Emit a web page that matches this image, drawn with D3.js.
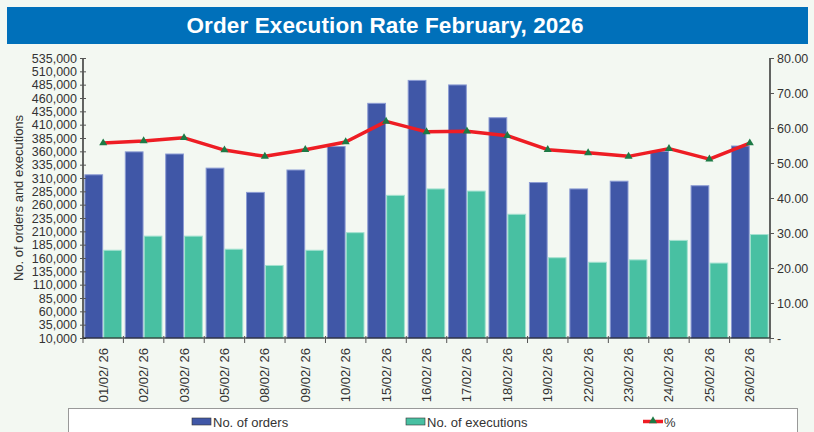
<!DOCTYPE html>
<html>
<head>
<meta charset="utf-8">
<script src="https://cdn.jsdelivr.net/npm/d3@7"></script>
<style>
  body { margin: 0; background: #f3f8f2; }
  svg { display: block; font-family: "Liberation Sans", Arial, sans-serif; }
</style>
</head>
<body>
<svg id="chart" width="814" height="432"></svg>
<script>
const dates = ['01/02/ 26', '02/02/ 26', '03/02/ 26', '05/02/ 26', '08/02/ 26', '09/02/ 26',
  '10/02/ 26', '15/02/ 26', '16/02/ 26', '17/02/ 26', '18/02/ 26', '19/02/ 26',
  '22/02/ 26', '23/02/ 26', '24/02/ 26', '25/02/ 26', '26/02/ 26'];
const orders = [316000, 359000, 355000, 328500, 283000, 325000, 369000, 450000, 493000,
  484500, 423000, 301500, 289500, 304000, 360000, 295500, 370000];
const executions = [174500, 201000, 201000, 176500, 146000, 174500, 207500, 277500, 289500,
  285500, 242000, 160500, 152000, 156500, 193000, 150500, 204000];
const percent = [55.7, 56.3, 57.2, 53.7, 51.9, 53.8, 56.0, 61.9, 58.9,
  59.1, 57.8, 53.8, 52.9, 51.9, 54.1, 51.1, 55.7];
const leftTicks = d3.range(10000, 535001, 25000);
const rightTicks = d3.range(0, 81, 10);

const svg = d3.select('#chart');
const margin = { left: 83, right: 770, top: 58, bottom: 338 };

// title banner
svg.append('rect')
  .attr('x', 7).attr('y', 7).attr('width', 801).attr('height', 37)
  .attr('fill', '#0070ba');
svg.append('text')
  .attr('x', 385).attr('y', 32.5)
  .attr('text-anchor', 'middle')
  .attr('fill', '#fff')
  .attr('font-weight', 'bold')
  .attr('font-size', 22.5)
  .attr('textLength', 397)
  .text('Order Execution Rate February, 2026');

const x = d3.scaleBand().domain(dates).range([margin.left, margin.right]);
const inner = d3.scaleBand().domain(['orders', 'executions'])
  .range([0, x.bandwidth()]).paddingInner(0.06).paddingOuter(0.1);
const yLeft = d3.scaleLinear().domain([10000, 535000]).range([margin.bottom, margin.top]);
const yRight = d3.scaleLinear().domain([0, 80]).range([margin.bottom, margin.top]);

// bars
const series = [
  { key: 'orders', values: orders, fill: '#4057a7', stroke: '#8b9bd3' },
  { key: 'executions', values: executions, fill: '#48c0a2', stroke: '#a3e2d0' }
];
series.forEach((s) => {
  svg.append('g').selectAll('rect')
    .data(s.values)
    .enter()
    .append('rect')
    .attr('x', (d, i) => x(dates[i]) + inner(s.key))
    .attr('y', (d) => yLeft(d))
    .attr('width', inner.bandwidth())
    .attr('height', (d) => margin.bottom - yLeft(d))
    .attr('fill', s.fill)
    .attr('stroke', s.stroke)
    .attr('stroke-width', 1);
});

// percentage line
const line = d3.line()
  .x((d, i) => x(dates[i]) + x.bandwidth() / 2)
  .y((d) => yRight(d));
svg.append('path')
  .datum(percent)
  .attr('d', line)
  .attr('fill', 'none')
  .attr('stroke', '#ee1d24')
  .attr('stroke-width', 3.5)
  .attr('stroke-linejoin', 'round');
const tri = d3.symbol().type(d3.symbolTriangle).size(28);
svg.append('g').selectAll('path')
  .data(percent)
  .enter()
  .append('path')
  .attr('d', tri)
  .attr('transform', (d, i) => `translate(${x(dates[i]) + x.bandwidth() / 2},${yRight(d)})`)
  .attr('fill', '#1d7a45');

// axes
const leftAxis = svg.append('g')
  .attr('transform', `translate(${margin.left},0)`)
  .call(d3.axisLeft(yLeft).tickValues(leftTicks).tickSize(3).tickFormat(d3.format(',')));
leftAxis.selectAll('.tick line').attr('x2', -3).attr('x1', 3);

const rightAxis = svg.append('g')
  .attr('transform', `translate(${margin.right},0)`)
  .call(d3.axisRight(yRight).tickValues(rightTicks).tickSize(4)
    .tickFormat((d) => d === 0 ? '-' : d3.format('.2f')(d)));

const bottomAxis = svg.append('g')
  .attr('transform', `translate(0,${margin.bottom})`)
  .call(d3.axisBottom(x).tickSize(0).tickFormat(''));
bottomAxis.selectAll('.tick').remove();
bottomAxis.append('g').selectAll('line')
  .data(dates.concat(['end']))
  .enter()
  .append('line')
  .attr('x1', (d, i) => i < dates.length ? x(d) : margin.right)
  .attr('x2', (d, i) => i < dates.length ? x(d) : margin.right)
  .attr('y1', -2).attr('y2', 5)
  .attr('stroke', '#555');

[leftAxis, rightAxis, bottomAxis].forEach((a) => {
  a.select('.domain').attr('stroke', '#000').attr('stroke-width', 1.2);
  a.selectAll('.tick line').attr('stroke', '#555');
  a.selectAll('text').attr('font-size', 12.5).attr('fill', '#333')
    .attr('font-family', '"Liberation Sans", Arial, sans-serif');
});
leftAxis.select('.domain').attr('d', `M0,${margin.top}V${margin.bottom}`);
rightAxis.select('.domain').attr('d', `M0,${margin.top}V${margin.bottom}`);
bottomAxis.select('.domain').attr('d', `M${margin.left},0H${margin.right}`);

// rotated date labels
svg.append('g').selectAll('text')
  .data(dates)
  .enter()
  .append('text')
  .attr('transform', (d) => `translate(${x(d) + x.bandwidth() / 2 + 4.5},${margin.bottom + 10}) rotate(-90)`)
  .attr('text-anchor', 'end')
  .attr('font-size', 13)
  .attr('fill', '#333')
  .text((d) => d);

// y axis title
svg.append('text')
  .attr('transform', `translate(23,${(margin.top + margin.bottom) / 2}) rotate(-90)`)
  .attr('text-anchor', 'middle')
  .attr('font-size', 13)
  .attr('fill', '#333')
  .text('No. of orders and executions');

// legend
svg.append('rect')
  .attr('x', 68.5).attr('y', 408.5).attr('width', 729).attr('height', 30)
  .attr('fill', '#fff').attr('stroke', '#999');
const legend = [
  { label: 'No. of orders', x: 192, type: 'bar', fill: '#4057a7' },
  { label: 'No. of executions', x: 406, type: 'bar', fill: '#48c0a2' },
  { label: '%', x: 643, type: 'line' }
];
legend.forEach((l) => {
  const g = svg.append('g');
  if (l.type === 'bar') {
    g.append('rect').attr('x', l.x).attr('y', 418).attr('width', 19).attr('height', 7)
      .attr('fill', l.fill).attr('stroke', '#333').attr('stroke-width', 0.6);
  } else {
    g.append('line').attr('x1', l.x).attr('x2', l.x + 20).attr('y1', 421.5).attr('y2', 421.5)
      .attr('stroke', '#ee1d24').attr('stroke-width', 3.5);
    g.append('path').attr('d', tri).attr('transform', `translate(${l.x + 10},421)`)
      .attr('fill', '#1d7a45');
  }
  g.append('text').attr('x', l.x + 21).attr('y', 427)
    .attr('font-size', 13).attr('fill', '#333').text(l.label);
});
</script>
</body>
</html>
